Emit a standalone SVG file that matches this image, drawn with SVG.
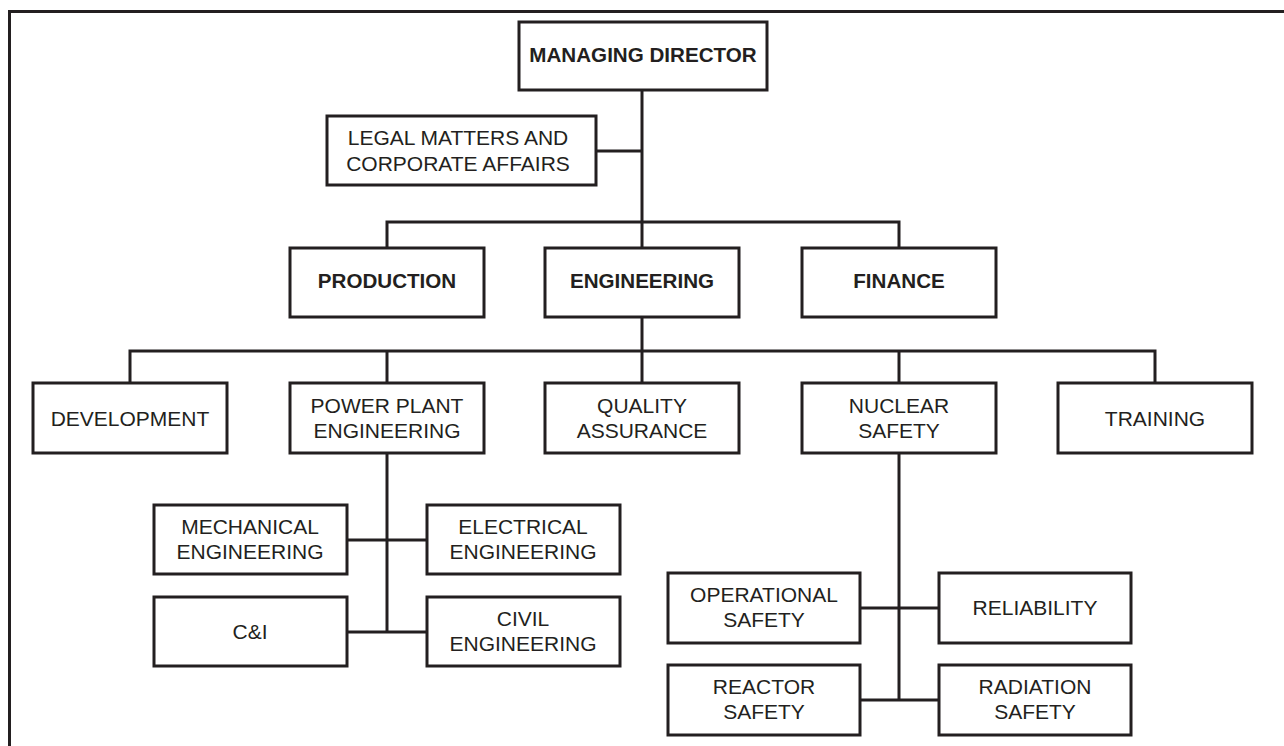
<svg xmlns="http://www.w3.org/2000/svg" width="1284" height="746" viewBox="0 0 1284 746">
  <style>
    .box { fill: #ffffff; stroke: #231f20; stroke-width: 3; }
    .wire { fill: none; stroke: #231f20; stroke-width: 3; }
    .lbl { font-family: "Liberation Sans", Arial, sans-serif; font-size: 21px; fill: #231f20; text-anchor: middle; }
    .head { font-weight: bold; font-size: 20.6px; }
  </style>
  <rect width="1284" height="746" fill="#ffffff"/>
  <!-- page frame (open on the right and bottom) -->
  <path class="wire" d="M9.5,746 V11.5 H1284"/>

  <!-- connectors -->
  <g id="connectors">
    <path class="wire" d="M642,90 V248"/>
    <path class="wire" d="M596,151 H642"/>
    <path class="wire" d="M387,248 V222 H899 V248"/>
    <path class="wire" d="M642,317 V383"/>
    <path class="wire" d="M130,383 V351 H1155 V383"/>
    <path class="wire" d="M387,351 V383"/>
    <path class="wire" d="M899,351 V383"/>
    <path class="wire" d="M387,453 V632"/>
    <path class="wire" d="M347,540 H427"/>
    <path class="wire" d="M347,632 H427"/>
    <path class="wire" d="M899,453 V700"/>
    <path class="wire" d="M860,608 H939"/>
    <path class="wire" d="M860,700 H939"/>
  </g>

  <g id="managing-director">
    <rect class="box" x="519" y="22" width="248" height="68"/>
    <text class="lbl head" x="643" y="62">MANAGING DIRECTOR</text>
  </g>
  <g id="legal">
    <rect class="box" x="327" y="116" width="269" height="69"/>
    <text class="lbl" x="458" y="145">LEGAL MATTERS AND</text>
    <text class="lbl" x="458" y="171">CORPORATE AFFAIRS</text>
  </g>

  <g id="production">
    <rect class="box" x="290" y="248" width="194" height="69"/>
    <text class="lbl head" x="387" y="288">PRODUCTION</text>
  </g>
  <g id="engineering">
    <rect class="box" x="545" y="248" width="194" height="69"/>
    <text class="lbl head" x="642" y="288">ENGINEERING</text>
  </g>
  <g id="finance">
    <rect class="box" x="802" y="248" width="194" height="69"/>
    <text class="lbl head" x="899" y="288">FINANCE</text>
  </g>

  <g id="development">
    <rect class="box" x="33" y="383" width="194" height="70"/>
    <text class="lbl" x="130" y="426">DEVELOPMENT</text>
  </g>
  <g id="power-plant-engineering">
    <rect class="box" x="290" y="383" width="194" height="70"/>
    <text class="lbl" x="387" y="413">POWER PLANT</text>
    <text class="lbl" x="387" y="438">ENGINEERING</text>
  </g>
  <g id="quality-assurance">
    <rect class="box" x="545" y="383" width="194" height="70"/>
    <text class="lbl" x="642" y="413">QUALITY</text>
    <text class="lbl" x="642" y="438">ASSURANCE</text>
  </g>
  <g id="nuclear-safety">
    <rect class="box" x="802" y="383" width="194" height="70"/>
    <text class="lbl" x="899" y="413">NUCLEAR</text>
    <text class="lbl" x="899" y="438">SAFETY</text>
  </g>
  <g id="training">
    <rect class="box" x="1058" y="383" width="194" height="70"/>
    <text class="lbl" x="1155" y="426">TRAINING</text>
  </g>

  <g id="mechanical-engineering">
    <rect class="box" x="154" y="505" width="193" height="69"/>
    <text class="lbl" x="250" y="534">MECHANICAL</text>
    <text class="lbl" x="250" y="559">ENGINEERING</text>
  </g>
  <g id="electrical-engineering">
    <rect class="box" x="427" y="505" width="193" height="69"/>
    <text class="lbl" x="523" y="534">ELECTRICAL</text>
    <text class="lbl" x="523" y="559">ENGINEERING</text>
  </g>
  <g id="c-and-i">
    <rect class="box" x="154" y="597" width="193" height="69"/>
    <text class="lbl" x="250" y="639">C&amp;I</text>
  </g>
  <g id="civil-engineering">
    <rect class="box" x="427" y="597" width="193" height="69"/>
    <text class="lbl" x="523" y="626">CIVIL</text>
    <text class="lbl" x="523" y="651">ENGINEERING</text>
  </g>

  <g id="operational-safety">
    <rect class="box" x="668" y="573" width="192" height="70"/>
    <text class="lbl" x="764" y="602">OPERATIONAL</text>
    <text class="lbl" x="764" y="627">SAFETY</text>
  </g>
  <g id="reliability">
    <rect class="box" x="939" y="573" width="192" height="70"/>
    <text class="lbl" x="1035" y="615">RELIABILITY</text>
  </g>
  <g id="reactor-safety">
    <rect class="box" x="668" y="665" width="192" height="70"/>
    <text class="lbl" x="764" y="694">REACTOR</text>
    <text class="lbl" x="764" y="719">SAFETY</text>
  </g>
  <g id="radiation-safety">
    <rect class="box" x="939" y="665" width="192" height="70"/>
    <text class="lbl" x="1035" y="694">RADIATION</text>
    <text class="lbl" x="1035" y="719">SAFETY</text>
  </g>
</svg>
